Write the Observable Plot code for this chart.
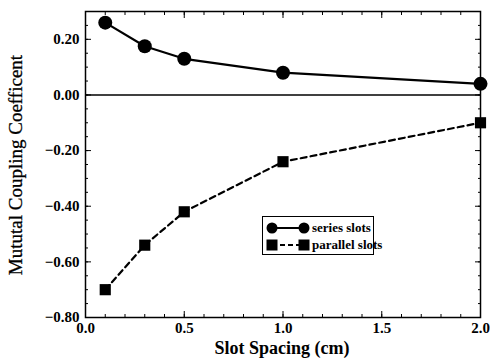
<!DOCTYPE html>
<html><head><meta charset="utf-8">
<script src="https://cdn.jsdelivr.net/npm/d3@7"></script>
<script src="https://cdn.jsdelivr.net/npm/@observablehq/plot@0.6"></script>
<style>
body{margin:0;background:#fff;}
#wrap{position:relative;width:490px;height:360px;font-family:"Liberation Serif","DejaVu Serif",serif;}
#legend{position:absolute;left:262px;top:216px;width:112px;height:39px;border:1.5px solid #000;background:#fff;font-size:13px;font-weight:bold;box-sizing:border-box;color:#000;}
#legend .row{position:absolute;left:2px;height:16px;display:flex;align-items:center;white-space:nowrap;}
#legend svg{margin-right:1px;}
</style></head>
<body><div id="wrap"></div>
<script>
const spacing = [0.1, 0.3, 0.5, 1.0, 2.0];
const seriesSlots = [0.26, 0.175, 0.13, 0.08, 0.04];
const parallelSlots = [-0.70, -0.54, -0.42, -0.24, -0.10];
const xTicks = [0.0, 0.5, 1.0, 1.5, 2.0];
const yTicks = [0.20, 0.00, -0.20, -0.40, -0.60, -0.80];
const seriesLabel = "series slots";
const parallelLabel = "parallel slots";
const xLabel = "Slot Spacing (cm)";
const yLabel = "Mututal Coupling Coefficent";

const ser = spacing.map((x,i)=>({x, y: seriesSlots[i]}));
const par = spacing.map((x,i)=>({x, y: parallelSlots[i]}));
const xMinor = d3.range(0, 2.0001, 0.1);
const yMinor = d3.range(-0.8, 0.3001, 0.05);

const font = "Liberation Serif";
const chart = Plot.plot({
  width: 490, height: 360,
  marginLeft: 85, marginRight: 10, marginTop: 11, marginBottom: 43,
  style: {fontFamily: font, fontSize: "15px", fontWeight: "bold", color: "#000", background: "#fff"},
  x: {domain: [0, 2]},
  y: {domain: [-0.8, 0.3]},
  marks: [
    Plot.frame({stroke: "#000", strokeWidth: 1.5}),
    Plot.ruleY([0], {stroke: "#000", strokeWidth: 1.5}),
    // labels
    Plot.axisX({ticks: xTicks, tickSize: 0, tickPadding: 5, tickFormat: d3.format(".1f"), label: null, fontSize: 15, fill: "#000"}),
    Plot.axisY({ticks: yTicks, tickSize: 0, tickPadding: 6, tickFormat: d3.format(".2f"), label: null, fontSize: 15, fill: "#000"}),
    // inward ticks
    Plot.axisX({anchor: "bottom", ticks: xMinor, tickSize: -3, text: null, label: null, stroke: "#000"}),
    Plot.axisX({anchor: "top", ticks: xMinor, tickSize: -3, text: null, label: null, stroke: "#000"}),
    Plot.axisX({anchor: "bottom", ticks: xTicks, tickSize: -6, text: null, label: null, stroke: "#000"}),
    Plot.axisX({anchor: "top", ticks: xTicks, tickSize: -6, text: null, label: null, stroke: "#000"}),
    Plot.axisY({anchor: "left", ticks: yMinor, tickSize: -3, text: null, label: null, stroke: "#000"}),
    Plot.axisY({anchor: "right", ticks: yMinor, tickSize: -3, text: null, label: null, stroke: "#000"}),
    Plot.axisY({anchor: "left", ticks: yTicks, tickSize: -6, text: null, label: null, stroke: "#000"}),
    Plot.axisY({anchor: "right", ticks: yTicks, tickSize: -6, text: null, label: null, stroke: "#000"}),
    Plot.line(ser, {x: "x", y: "y", stroke: "#000", strokeWidth: 2.2}),
    Plot.line(par, {x: "x", y: "y", stroke: "#000", strokeWidth: 2.2, strokeDasharray: "6,4"}),
    Plot.dot(ser, {x: "x", y: "y", r: 7, fill: "#000", symbol: "circle"}),
    Plot.dot(par, {x: "x", y: "y", r: 6.3, fill: "#000", symbol: "square"})
  ]
});
const wrap = document.getElementById("wrap");
wrap.appendChild(chart);

// axis titles
const svg = d3.select(chart);
svg.append("text").attr("x", 282).attr("y", 354).attr("text-anchor", "middle").attr("fill", "#000")
  .attr("font-family", font).attr("font-size", 18).attr("font-weight", "bold").text(xLabel);
svg.append("text").attr("transform", "translate(22,165) rotate(-90)").attr("text-anchor", "middle").attr("fill", "#000")
  .attr("font-family", font).attr("font-size", 19).attr("font-weight", "normal").attr("stroke", "#000").attr("stroke-width", 0.3).text(yLabel);

// legend
const lg = document.createElement("div");
lg.id = "legend";
lg.innerHTML = `
<div class="row" style="top:3px"><svg width="46" height="14"><line x1="7" y1="7" x2="39" y2="7" stroke="#000" stroke-width="2"/><circle cx="7" cy="7" r="5.5" fill="#000"/><circle cx="39" cy="7" r="5.5" fill="#000"/></svg><span>${seriesLabel}</span></div>
<div class="row" style="top:20px"><svg width="46" height="14"><line x1="7" y1="7" x2="39" y2="7" stroke="#000" stroke-width="2" stroke-dasharray="5,3"/><rect x="1.5" y="1.5" width="11" height="11" fill="#000"/><rect x="33.5" y="1.5" width="11" height="11" fill="#000"/></svg><span>${parallelLabel}</span></div>`;
wrap.appendChild(lg);
</script></body></html>
